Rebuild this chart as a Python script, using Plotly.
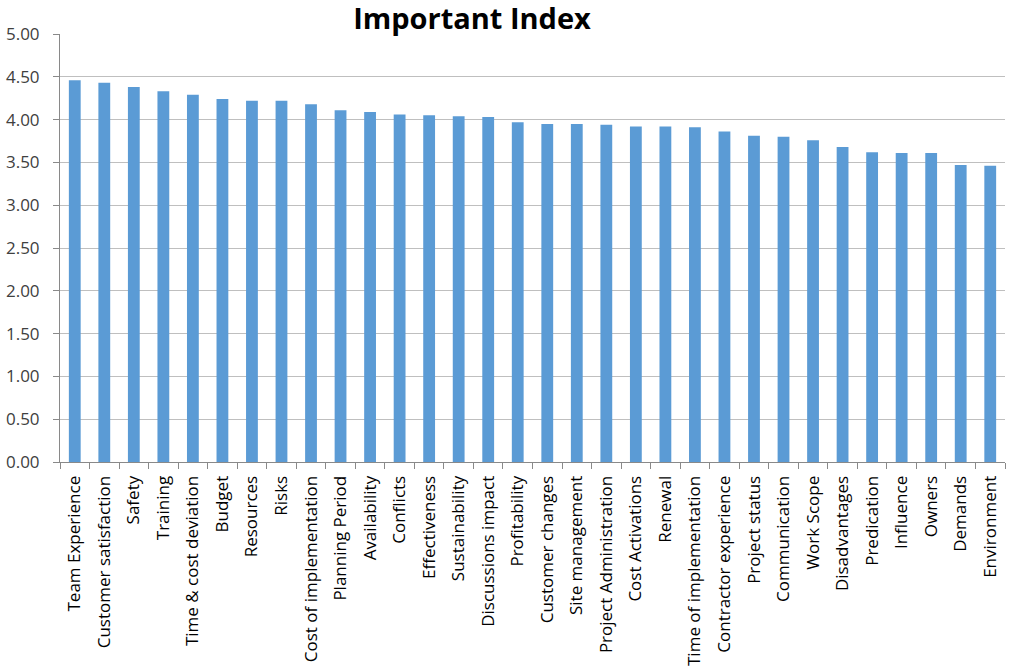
import plotly.graph_objects as go

categories = [
    "Team Experience", "Customer satisfaction", "Safety", "Training",
    "Time & cost deviation", "Budget", "Resources", "Risks",
    "Cost of implementation", "Planning Period", "Availability", "Conflicts",
    "Effectiveness", "Sustainability", "Discussions impact", "Profitability",
    "Customer changes", "Site management", "Project Administration",
    "Cost Activations", "Renewal", "Time of implementation",
    "Contractor experience", "Project status", "Communication", "Work Scope",
    "Disadvantages", "Predication", "Influence", "Owners", "Demands",
    "Environment",
]
values = [
    4.46, 4.43, 4.38, 4.33, 4.29, 4.24, 4.22, 4.22, 4.18, 4.11, 4.09, 4.06,
    4.05, 4.04, 4.03, 3.97, 3.95, 3.95, 3.94, 3.92, 3.92, 3.91, 3.86, 3.81,
    3.80, 3.76, 3.68, 3.62, 3.61, 3.61, 3.47, 3.46,
]
y_ticks = [0, 0.5, 1.0, 1.5, 2.0, 2.5, 3.0, 3.5, 4.0, 4.5, 5.0]

fig = go.Figure(go.Bar(x=categories, y=values, marker_color="#5B9BD5",
                       marker_line_width=0))

fig.update_layout(
    width=1010, height=669,
    margin=dict(l=60, r=5, t=34, b=207, autoexpand=False),
    paper_bgcolor="white", plot_bgcolor="white",
    bargap=0.6,
    showlegend=False,
    font=dict(family="Open Sans", color="#404040"),
    title=dict(text="<b>Important Index</b>", x=472 / 1010, xanchor="center",
               xref="container", y=1 - 19 / 669, yanchor="middle",
               yref="container",
               font=dict(family="Open Sans", size=29, color="black")),
)
fig.update_xaxes(
    tickangle=-90, tickfont=dict(size=17, color="black"),
    showline=True, linecolor="#898989", linewidth=1,
    ticks="outside", tickson="boundaries", ticklen=6, tickcolor="#898989",
    ticklabelstandoff=6,
    showgrid=False, automargin=False,
)
fig.update_yaxes(
    range=[0, 5], tickvals=y_ticks,
    ticktext=[f"{v:.2f}" for v in y_ticks],
    tickfont=dict(size=17, color="#404040"),
    showline=True, linecolor="#898989", linewidth=1,
    ticks="outside", ticklen=6, tickcolor="#898989",
    ticklabelstandoff=10,
    showgrid=True, gridcolor="#BFBFBF", gridwidth=1,
    zeroline=False, automargin=False,
)

fig.write_html(
    "out.html",
    config={"displayModeBar": False},
    post_script="document.body.style.margin='0';document.body.style.overflow='hidden';",
)
